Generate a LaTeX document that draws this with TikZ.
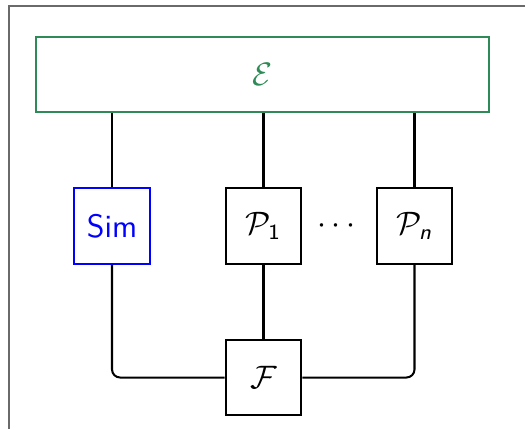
\documentclass[tikz,border=0pt]{standalone}
\usepackage{amsmath}
\usetikzlibrary{positioning}
\definecolor{envgreen}{HTML}{2E8B57}
\definecolor{framegray}{HTML}{6A6A6A}

\begin{document}
\begin{tikzpicture}[
    x=0.37pt, y=-0.37pt,
    font=\sffamily\large,
    box/.style={draw, line width=0.75pt, minimum width=28pt, minimum height=28pt, inner sep=0pt},
    envbox/.style={draw=envgreen, text=envgreen, line width=0.75pt, minimum width=167.6pt, minimum height=27.8pt, inner sep=0pt},
    wire/.style={line width=0.75pt, rounded corners=3pt}
]
\useasboundingbox (0,0) rectangle (525,428);
\draw[framegray, line width=0.5pt] (9,440) -- (9,6) -- (540,6);

\node[envbox] (env) at (262.5,74.5) {$\mathcal{E}$};
\node[box, draw=blue, text=blue] (sim) at (112,226) {Sim};
\node[box] (p1) at (263.5,226) {$\mathcal{P}_{\textsf{1}}$};
\node[box] (pn) at (414.5,226) {$\mathcal{P}_{\textsf{\itshape n}}$};
\node (dots) at (339,226) {$\cdots$};
\node[box] (fcal) at (263.5,377.5) {$\mathcal{F}$};

\draw[wire] (sim.north) -- (sim.north |- env.south);
\draw[wire] (p1.north) -- (p1.north |- env.south);
\draw[wire] (pn.north) -- (pn.north |- env.south);
\draw[wire] (p1) -- (fcal);
\draw[wire] (sim.south) |- (fcal.west);
\draw[wire] (pn.south) |- (fcal.east);
\end{tikzpicture}
\end{document}
